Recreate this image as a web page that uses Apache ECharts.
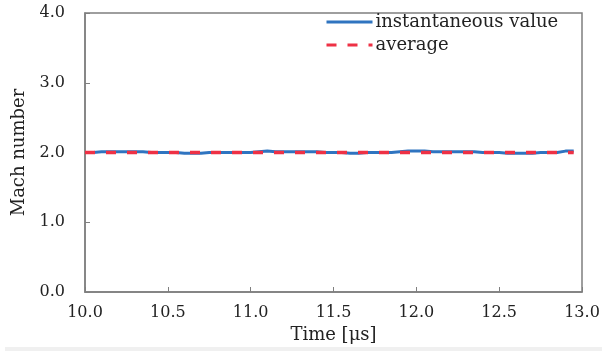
<!DOCTYPE html>
<html><head><meta charset="utf-8">
<script src="https://cdn.jsdelivr.net/npm/echarts@6/dist/echarts.min.js"></script>
<style>html,body{margin:0;padding:0;background:#fff}#c{width:607px;height:351px}</style>
</head><body><div id="c"></div>
<script>
var times = [10.05,10.10,10.15,10.20,10.25,10.30,10.35,10.40,10.45,10.50,10.55,10.60,10.65,10.70,10.75,10.80,10.85,10.90,10.95,11.00,11.05,11.10,11.15,11.20,11.25,11.30,11.35,11.40,11.45,11.50,11.55,11.60,11.65,11.70,11.75,11.80,11.85,11.90,11.95,12.00,12.05,12.10,12.15,12.20,12.25,12.30,12.35,12.40,12.45,12.50,12.55,12.60,12.65,12.70,12.75,12.80,12.85,12.90,12.95];
var instantaneous = [2.00,2.01,2.01,2.01,2.01,2.01,2.01,2.00,2.00,2.00,2.00,1.99,1.99,1.99,2.00,2.00,2.00,2.00,2.00,2.00,2.01,2.02,2.01,2.01,2.01,2.01,2.01,2.01,2.00,2.00,2.00,1.99,1.99,2.00,2.00,2.00,2.00,2.01,2.02,2.02,2.02,2.01,2.01,2.01,2.01,2.01,2.01,2.00,2.00,2.00,1.99,1.99,1.99,1.99,2.00,2.00,2.00,2.02,2.02];
var avgTimes = [10.0, 12.95];
var avgValues = [2.0, 2.0];
var seriesNames = ['instantaneous value', 'average'];

var chart = echarts.init(document.getElementById('c'));
var font = 'DejaVu Serif';
var axisCol = '#7f7f7f';
chart.setOption({
  animation: false,
  grid: {left: 85, right: 25, top: 13, bottom: 59, show: true, borderColor: axisCol, borderWidth: 1.5},
  legend: {
    left: 320, top: 8, orient: 'vertical', itemGap: 5, itemWidth: 46, itemHeight: 12,
    itemStyle: {opacity: 0}, lineStyle: {width: 3},
    textStyle: {fontFamily: font, fontSize: 18, color: '#222', padding: [0,0,0,-2]},
    data: seriesNames
  },
  xAxis: {
    type: 'value', min: 10, max: 13, interval: 0.5,
    name: 'Time [μs]', nameLocation: 'middle', nameGap: 34,
    nameTextStyle: {fontFamily: font, fontSize: 18, color: '#222'},
    axisLine: {lineStyle: {color: axisCol, width: 1.5}},
    axisTick: {inside: true, length: 5, lineStyle: {color: axisCol}},
    axisLabel: {fontFamily: font, fontSize: 16, color: '#222', margin: 13, formatter: function(v){return v.toFixed(1);}},
    splitLine: {show: false}
  },
  yAxis: {
    type: 'value', min: 0, max: 4, interval: 1,
    name: 'Mach number', nameLocation: 'middle', nameGap: 53,
    nameTextStyle: {fontFamily: font, fontSize: 18, color: '#222'},
    axisLine: {show: true, lineStyle: {color: axisCol, width: 1.5}},
    axisTick: {show: true, inside: true, length: 5, lineStyle: {color: axisCol}},
    axisLabel: {fontFamily: font, fontSize: 16, color: '#222', margin: 20, formatter: function(v){return v.toFixed(1);}},
    splitLine: {show: false}
  },
  series: [
    {name: seriesNames[0], type: 'line', showSymbol: false, symbol: 'none',
     data: times.map(function(t,i){return [t, instantaneous[i]];}),
     lineStyle: {color: '#2f74c0', width: 3}, itemStyle: {color: '#2f74c0'}},
    {name: seriesNames[1], type: 'line', showSymbol: false, symbol: 'none',
     data: avgTimes.map(function(t,i){return [t, avgValues[i]];}),
     lineStyle: {color: '#ee3145', width: 3.5, type: [10, 11]}, itemStyle: {color: '#ee3145'}}
  ],
  graphic: [{type: 'rect', shape: {x: 5, y: 347, width: 597, height: 4}, style: {fill: '#f0f0f0'}, silent: true}]
});
</script></body></html>
